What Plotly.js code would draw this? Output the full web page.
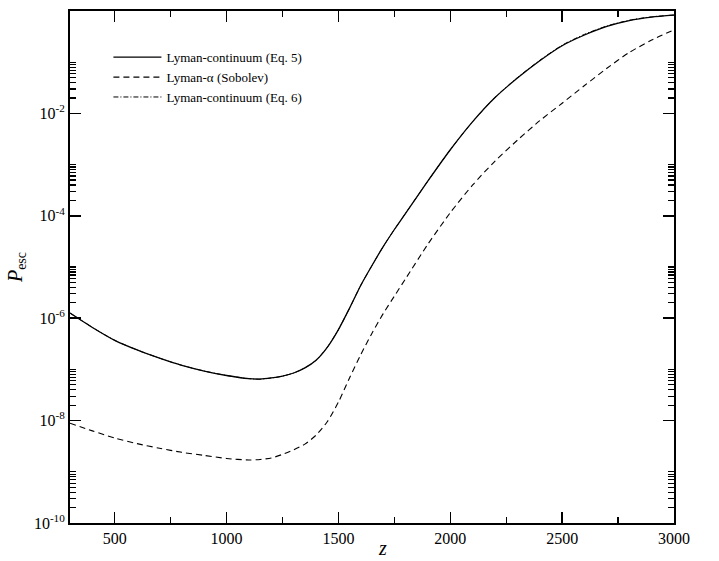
<!DOCTYPE html>
<html>
<head>
<meta charset="utf-8">
<script src="https://cdn.plot.ly/plotly-3.0.1.min.js"></script>
<style>html,body{margin:0;padding:0;background:#fff;}#chart{width:719px;height:561px;}</style>
</head>
<body>
<div id="chart"></div>
<script>
// Redshift grid
const redshift = [300,400,500,600,700,800,900,1000,1100,1150,1200,1250,1300,1350,1400,1450,1500,1550,1600,1650,1700,1750,1800,1900,2000,2100,2200,2300,2400,2500,2600,2700,2800,2900,3000];

// Lyman-continuum escape probability (Eq. 5)
const pescLycEq5 = [1.26e-6,6.6e-7,3.7e-7,2.4e-7,1.66e-7,1.2e-7,9.3e-8,7.6e-8,6.6e-8,6.45e-8,6.8e-8,7.4e-8,8.5e-8,1.07e-7,1.51e-7,2.7e-7,6.0e-7,1.58e-6,4.4e-6,1.07e-5,2.5e-5,5.4e-5,1.12e-4,4.8e-4,1.95e-3,6.9e-3,2.04e-2,4.9e-2,0.107,0.21,0.34,0.50,0.65,0.76,0.83];

// Lyman-alpha escape probability (Sobolev)
const pescLyaSobolev = [8.9e-9,6.3e-9,4.57e-9,3.55e-9,2.88e-9,2.4e-9,2.09e-9,1.82e-9,1.70e-9,1.74e-9,1.86e-9,2.19e-9,2.69e-9,3.47e-9,5.2e-9,9.5e-9,2.3e-8,6.9e-8,1.95e-7,5.1e-7,1.23e-6,2.7e-6,5.9e-6,2.8e-5,1.15e-4,4.0e-4,1.17e-3,3.0e-3,7.2e-3,1.58e-2,3.5e-2,7.6e-2,0.155,0.27,0.43];

// Lyman-continuum escape probability (Eq. 6)
const pescLycEq6 = [1.26e-6,6.6e-7,3.7e-7,2.4e-7,1.66e-7,1.2e-7,9.3e-8,7.6e-8,6.6e-8,6.45e-8,6.8e-8,7.4e-8,8.5e-8,1.07e-7,1.51e-7,2.7e-7,6.0e-7,1.58e-6,4.4e-6,1.07e-5,2.5e-5,5.4e-5,1.12e-4,4.8e-4,1.95e-3,6.9e-3,2.06e-2,5.0e-2,0.109,0.215,0.35,0.51,0.66,0.77,0.835];

const seriesNames = ['Lyman-continuum (Eq. 5)', 'Lyman-\u03b1 (Sobolev)', 'Lyman-continuum (Eq. 6)'];

// Y tick labels
const yTickVals = [1e-10,1e-8,1e-6,1e-4,1e-2,1];
const yTickText = ['10<sup>-10</sup>','10<sup>-8</sup>','10<sup>-6</sup>','10<sup>-4</sup>','10<sup>-2</sup>','10<sup>0</sup>'];
const yMinorVals = [];
[1e-10,1e-8,1e-6,1e-4,1e-2].forEach(b => { for (let k = 2; k <= 10; k++) yMinorVals.push(k * b); });

const font = '"Liberation Serif", "Times New Roman", serif';

const traces = [
  {x: redshift, y: pescLycEq5, name: seriesNames[0], mode: 'lines',
   line: {color: '#000', width: 1.3, shape: 'spline', smoothing: 0.7}},
  {x: redshift, y: pescLyaSobolev, name: seriesNames[1], mode: 'lines',
   line: {color: '#000', width: 1.1, dash: '6px,4px', shape: 'spline', smoothing: 0.7}},
  {x: redshift, y: pescLycEq6, name: seriesNames[2], mode: 'lines',
   line: {color: '#000', width: 1.0, dash: '5px,2px,1px,2px', shape: 'spline', smoothing: 0.7}}
];

const layout = {
  width: 719, height: 561,
  margin: {l: 70, r: 45, t: 11, b: 38},
  paper_bgcolor: '#fff', plot_bgcolor: '#fff',
  font: {family: font, size: 16, color: '#000'},
  showlegend: true,
  legend: {x: 0.0636, y: 0.939, xanchor: 'left', yanchor: 'top', bgcolor: 'rgba(0,0,0,0)',
           font: {family: font, size: 13, color: '#000'}, itemwidth: 48, tracegroupgap: 0},
  xaxis: {
    range: [300, 3000], tick0: 0, dtick: 500, ticks: 'inside', ticklen: 11, tickwidth: 1.5,
    tickcolor: '#000', showline: true, linecolor: '#000', linewidth: 2, mirror: 'allticks',
    showgrid: false, zeroline: false,
    tickfont: {family: font, size: 16, color: '#000'},
    minor: {dtick: 250, tick0: 0, ticks: 'inside', ticklen: 6, tickwidth: 1.2, tickcolor: '#000', showgrid: false},
    title: {text: ''}
  },
  yaxis: {
    type: 'log', range: [-10, 0], tickmode: 'array', tickvals: yTickVals, ticktext: yTickText,
    ticks: 'inside', ticklen: 11, tickwidth: 1.5, tickcolor: '#000',
    showline: true, linecolor: '#000', linewidth: 2, mirror: 'allticks',
    showgrid: false, zeroline: false,
    tickfont: {family: font, size: 16, color: '#000'},
    minor: {tickmode: 'array', tickvals: yMinorVals, ticks: 'inside', ticklen: 6, tickwidth: 1.2, tickcolor: '#000', showgrid: false},
    title: {text: '<i>P</i><sub>esc</sub>', font: {family: font, size: 20, color: '#000'}, standoff: 6}
  },
  annotations: [
    {text: '<i>z</i>', xref: 'paper', yref: 'paper', x: 0.518, y: -0.049, xanchor: 'center', yanchor: 'middle',
     showarrow: false, font: {family: font, size: 20, color: '#000'}}
  ]
};

Plotly.newPlot('chart', traces, layout, {displayModeBar: false, staticPlot: true});
</script>
</body>
</html>
